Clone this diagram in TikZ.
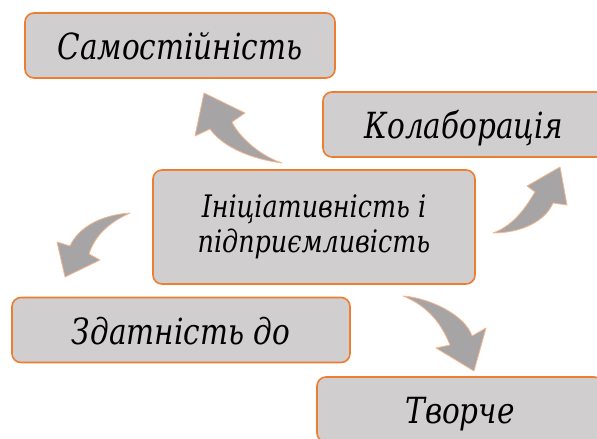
\documentclass[tikz,border=0pt]{standalone}
\usepackage{fontspec}
\setmainfont{Liberation Serif}
\newfontfamily\labelfont{DejaVu Serif}[FakeStretch=0.82]
\definecolor{boxfill}{RGB}{208,206,207}
\definecolor{boxline}{RGB}{237,125,49}
\definecolor{arrowfill}{RGB}{166,164,164}

\begin{document}
\begin{tikzpicture}[x=1pt,y=-1pt,
  block/.style={draw=boxline,fill=boxfill,line width=1.6pt,rounded corners=9pt,inner sep=0pt},
  item/.style={block,font=\labelfont\itshape\fontsize{36}{40}\selectfont,minimum height=65pt,
    text height=28pt,text depth=0pt},
  core/.style={block,font=\labelfont\itshape\fontsize{31}{35}\selectfont,align=center,
    minimum width=322pt,minimum height=114pt},
  flow/.style={fill=arrowfill,draw=boxline!55,line width=.8pt,line join=round}]
  \clip (0,0) rectangle (597,439);

  \node[item,minimum width=310pt] (samo) at (180,45.5) {Самостійність};
  \node[item,minimum width=282pt] (kolab) at (464,124.5) {Колаборація};
  \node[core] (ini) at (314,227) {Ініціативність і\\підприємливість};
  \node[item,minimum width=338pt] (zdat) at (181,330) {Здатність до};
  \node[item,minimum width=286pt] (tvor) at (460,409.5) {Творче};

  % curved block arrows round the centre
  \draw[flow] (204,93) -- (245,113) -- (232,122)
    .. controls (238,135) and (258,155) .. (282,163)
    .. controls (258,160) and (225,150) .. (210,129) -- (195,136) -- cycle;
  \draw[flow] (560,167) -- (567,205) -- (553,203)
    .. controls (545,222) and (520,233) .. (493,233)
    .. controls (515,225) and (527,205) .. (535,192) -- (527,186) -- cycle;
  \draw[flow] (130,213) .. controls (100,215) and (78,228) .. (70,246)
    -- (57,242) -- (65,277) -- (100,260) -- (89,254)
    .. controls (95,235) and (110,222) .. cycle;
  \draw[flow] (403,296) .. controls (430,298) and (465,315) .. (472,336)
    -- (486,328) -- (474,371) -- (436,348) -- (450,345)
    .. controls (440,320) and (425,305) .. cycle;
\end{tikzpicture}
\end{document}
